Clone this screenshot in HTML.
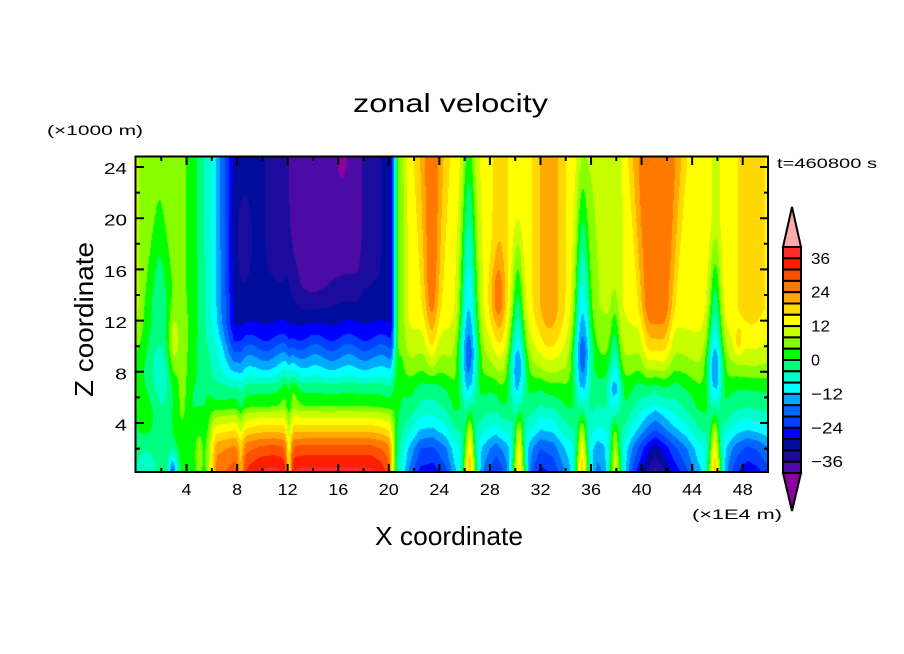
<!DOCTYPE html>
<html><head><meta charset="utf-8"><style>
html,body{margin:0;padding:0;background:#fff;}
#wrap{position:relative;width:904px;height:654px;overflow:hidden;background:#fff;}
canvas{position:absolute;left:136px;top:157px;}
svg{position:absolute;left:0;top:0;}
text{font-family:"Liberation Sans",Arial,sans-serif;fill:#000;}
</style></head><body><div id="wrap">
<canvas id="c" width="632" height="315"></canvas>
<svg id="s" width="904" height="654" xmlns="http://www.w3.org/2000/svg">
<text x="353" y="112" font-size="26" textLength="195" lengthAdjust="spacingAndGlyphs">zonal velocity</text>
<text x="47" y="135" font-size="14" textLength="96" lengthAdjust="spacingAndGlyphs">(×1000 m)</text>
<text x="777" y="168" font-size="14" textLength="100" lengthAdjust="spacingAndGlyphs">t=460800 s</text>
<text x="375" y="545" font-size="26" textLength="148" lengthAdjust="spacingAndGlyphs">X coordinate</text>
<text x="692" y="519" font-size="14" textLength="90" lengthAdjust="spacingAndGlyphs">(×1E4 m)</text>
<text transform="translate(93,397) rotate(-90)" x="0" y="0" font-size="26" textLength="155" lengthAdjust="spacingAndGlyphs">Z coordinate</text>
<g font-size="16" text-anchor="end">
<text x="127" y="174" textLength="23" lengthAdjust="spacingAndGlyphs">24</text>
<text x="127" y="225.5" textLength="23" lengthAdjust="spacingAndGlyphs">20</text>
<text x="127" y="277" textLength="23" lengthAdjust="spacingAndGlyphs">16</text>
<text x="127" y="328" textLength="23" lengthAdjust="spacingAndGlyphs">12</text>
<text x="127" y="379.5" textLength="12" lengthAdjust="spacingAndGlyphs">8</text>
<text x="127" y="430.5" textLength="12" lengthAdjust="spacingAndGlyphs">4</text>
</g>
<g id="xl" font-size="16" text-anchor="middle"></g>
<g font-size="16">
<text x="811" y="263.8" textLength="19" lengthAdjust="spacingAndGlyphs">36</text>
<text x="811" y="297.7" textLength="19" lengthAdjust="spacingAndGlyphs">24</text>
<text x="811" y="331.6" textLength="19" lengthAdjust="spacingAndGlyphs">12</text>
<text x="811" y="365.5" textLength="9" lengthAdjust="spacingAndGlyphs">0</text>
<text x="811" y="399.4" textLength="32" lengthAdjust="spacingAndGlyphs">−12</text>
<text x="811" y="433.3" textLength="32" lengthAdjust="spacingAndGlyphs">−24</text>
<text x="811" y="467.2" textLength="32" lengthAdjust="spacingAndGlyphs">−36</text>
</g>
<rect x="135.5" y="156.5" width="632.5" height="315.5" fill="none" stroke="#000" stroke-width="2"/>
<path id="ticks" d="" stroke="#000" stroke-width="2" fill="none"/>
<g id="cb"></g>
</svg>
</div>
<script>
(function(){
function pl(k,v){if(v<=k[0][0])return k[0][1];for(let i=1;i<k.length;i++){if(v<=k[i][0]){const a=k[i-1],b=k[i];return a[1]+(b[1]-a[1])*(v-a[0])/(b[0]-a[0]);}}return k[k.length-1][1];}
function cl(t){return t<0?0:t>1?1:t;}
function ss(a,b,v){let t=cl((v-a)/(b-a));return t*t*(3-2*t);}
function G(d,s){return Math.exp(-(d*d)/(s*s));}

const PK=[[0,38.5],[0.6,36],[1.5,32],[2.3,28],[2.8,24],[3.3,20],[3.85,16],[4.4,12],[4.9,8],[5.3,4],[6.3,0],[7.1,-4],[7.6,-8],[8.3,-12],[9.1,-16],[9.9,-20],[10.7,-24],[11.9,-28]];
const AK=[[6,-30],[9.8,-30.5],[10.5,-33],[12,-35],[12.5,-38.5],[17.5,-38.5],[18,-35],[19.2,-33.5],[19.7,-30],[20.5,-29]];
const OFK=[[5.8,-14],[6.5,-12],[7.5,-9],[8.8,-5],[9.8,-1],[11,0],[11.7,-2],[12.5,-1],[13.5,0],[18.5,0],[19.4,-3],[20,-8],[20.6,-14]];

function mid(x,z){
  let ze=z+0.3*Math.sin((x-7)*2.4)*Math.exp(-((z-10)/2.5)*((z-10)/2.5));
  let u;
  if(ze<=11.9)u=pl(PK,ze);
  else{let t=cl((ze-11.9)/7.4);let g=1-(1-t)*(1-t);u=-28+(pl(AK,x)+28)*g;}
  u+=pl(OFK,x)*Math.exp(-z/3.5);
  let dec=Math.exp(-z/4);
  u+=(-12*G(x-8.3,0.25)-22*G(x-12.1,0.22))*dec;
  u+=6*G(x-12.2,0.7)*G(z-7,2.2);
  u+=-4*G(x-8.6,0.6)*G(z-18,4);
  u+=-6*G(x-16.3,0.35)*G(z-25,1.6);
  u+=-2.5*G(x-14,1.5)*G(z-14.5,2.5)+2.5*G(x-12.3,0.6)*G(z-16,3);
  return u;
}
function left(x,z){
  let u=0+5*ss(5,12,z);
  u+=2.5*Math.sin(x*2.2)*G(z-5,3);
  u+=5*G(x+0.1,0.5)*ss(8,14,z);
  let sg=0.35+0.07*Math.max(0,21-z);
  let amp=Math.min(8,0.9*Math.max(0,22.5-z))*ss(4,9,z);
  u-=amp*G(x-1.85,sg);
  u+=8*G(x-2.95,0.45)*G(z-10,2.8);
  u+=-18*G(x-2.9,0.35)*G(z,1.6);
  u+=-8*G(x-0.8,0.9)*G(z,2.5);
  u+=4*G(x-3.7,0.4)*G(z-8,4);
  u+=6*G(x-5.0,0.6)*G(z-2,3.5);
  return u;
}
const LK=[[20.9,-6],[21.5,-16],[22.5,-26],[23.5,-27],[24.5,-22],[25.2,-14],[26.4,-10],[27,-14],[28.5,-25],[29.5,-18],[30.3,-10],[31,-18],[32,-26],[33,-24],[34,-16],[35.3,-10],[36.5,-18],[37.3,-16],[37.9,-10],[38.7,-14],[39.5,-24],[40.5,-34],[41.1,-38],[41.7,-34],[42.5,-28],[43.5,-22],[44.5,-14],[45.8,-10],[46.8,-18],[47.5,-24],[48.4,-28],[49.2,-26],[50,-22]];
const SK=[[0,0],[1.1,.09],[2,.15],[2.5,.215],[3.4,.34],[4,.40],[5.2,.52],[6.3,.585],[7.1,.65],[8.3,.77],[9.2,.83],[10.1,.89],[11.5,.95],[13,1]];
const TONG=[[26.3,28,10,33.4,0.75],[30.2,24,9,21.0,0.65],[35.3,26,10,26.3,0.7],[37.9,16,7,15.4,0.5],[45.8,22,9,20,0.65]];
const SPK=[[26.4,28],[30.3,26],[35.3,27],[37.9,20],[45.8,27]];
function upper(x,z){
  let f=Math.sqrt(cl((z-5)/7));
  let f1=Math.pow(cl((z-7)/8),0.6);
  let u=14;
  u+=-8*G(x-20.9,0.5);
  let s1=Math.max(0.45,0.55+0.04*(z-12));
  u+=13*f1*G(x-23.4,s1);
  u+=5*G(x-28.8,0.63)+8*G(x-28.6,0.6)*G(z-14,3);
  u+=9*f*G(x-32.7,1.1);
  let s4=2.03*(0.55+0.45*cl((z-11)/13));
  let d4=(x-41.2)/s4;u+=13*f*Math.exp(-d4*d4*d4*d4);
  u+=-5*G(x-37.3,1.3)-2*G(x-26.8,0.8)-4*G(x-35.8,1.0)-3*G(x-45.9,0.5);
  u+=4*G(x-48.7,1.3)+6*G(x-47.65,0.35)*G(z-10.2,1.2);
  return u;
}
function right(x,z){
  let L=pl(LK,x),U=upper(x,z),s=pl(SK,z);
  let u=L+(U-L)*s;
  for(let k=0;k<TONG.length;k++){
    const t=TONG[k];const xc=t[0],N=t[1],zm=t[2],zt=t[3],s0=t[4];
    let a;
    if(z>zm)a=cl((zt-z)/(zt-zm));else a=ss(2.5,zm,z);
    if(a<=0)continue;
    let sg=s0*(0.5+0.5*a);
    u-=N*a*G(x-xc,sg);
  }
  for(let k=0;k<SPK.length;k++){
    const p=SPK[k];
    let sg=Math.max(0.1,0.6*(1-z/8));
    u+=p[1]*G(x-p[0],sg)*G(z,3.8);
  }
  return u;
}
function field(x,z){
  let wz=ss(4.5,10,z),w,o;
  if(x<13){
    let t=cl((x-3.3)/4.5);let wu=Math.pow(t,1.8);let wl=ss(5.3,6.5,x);
    w=wl*(1-wz)+wu*wz;
    o=w<1?left(x,z):0;
  }else{
    let wu=1-ss(20.1,20.85,x),wl=1-ss(19.9,20.85,x);
    w=wl*(1-wz)+wu*wz;
    o=w<1?right(x,z):0;
  }
  let m=w>0?mid(x,z):0;
  return w*m+(1-w)*o;
}
const COL=['#4c0aa6','#1c0c9e','#000c9c','#0000ff','#0040ff','#0068ff','#00a8ff','#00ffff','#00ffc8','#00ff80','#00ff00','#88ff00','#c8ff00','#ffff00','#ffd800','#ffa800','#ff7800','#ff5000','#ff1e00','#ff2a2a'];
const UNDER='#8c00a0',OVER='#ffaaaa';
function hex(h){return [parseInt(h.substr(1,2),16),parseInt(h.substr(3,2),16),parseInt(h.substr(5,2),16)];}
const RGB=COL.map(hex),RU=hex(UNDER),RO=hex(OVER);

const cv=document.getElementById('c'),ctx=cv.getContext('2d');
const W=632,H=315,img=ctx.createImageData(W,H),d=img.data;
for(let j=0;j<H;j++){const z=24.78-(j+0.5)/12.8;
  for(let i=0;i<W;i++){const x=(i+0.5)/12.64;
    const u=field(x,z);let c;
    if(!(u>=-40))c=RU;else if(u>=40)c=RO;else c=RGB[Math.min(19,Math.floor((u+40)/4))];
    const p=(j*W+i)*4;d[p]=c[0];d[p+1]=c[1];d[p+2]=c[2];d[p+3]=255;}}
ctx.putImageData(img,0,0);

const NS='http://www.w3.org/2000/svg';
let p='';
for(let v=2;v<=48;v+=2){const X=(136+12.64*v).toFixed(2),L=(v%4==0)?8:4;p+='M'+X+' 472v-'+L+'M'+X+' 157v'+L;}
for(let z=2;z<=24;z+=2){const Y=(474.2-12.8*z).toFixed(2),L=(z%4==0)?8:4;p+='M136 '+Y+'h'+L+'M768 '+Y+'h-'+L;}
document.getElementById('ticks').setAttribute('d',p);

const xl=document.getElementById('xl');
for(let v=4;v<=48;v+=4){const t=document.createElementNS(NS,'text');
  t.setAttribute('x',(136+12.64*v).toFixed(2));t.setAttribute('y','495');
  t.setAttribute('textLength',v<10?'10':'20');t.setAttribute('lengthAdjust','spacingAndGlyphs');
  t.textContent=String(v);xl.appendChild(t);}

const cb=document.getElementById('cb');
function el(n,a){const e=document.createElementNS(NS,n);for(const k in a)e.setAttribute(k,a[k]);cb.appendChild(e);return e;}
el('polygon',{points:'783,247 801,247 792,207',fill:OVER,stroke:'#000','stroke-width':'2'});
el('polygon',{points:'783,473 801,473 792,511',fill:UNDER,stroke:'#000','stroke-width':'2'});
for(let i=0;i<20;i++){el('rect',{x:'783',y:(247+i*11.3).toFixed(2),width:'18',height:'11.3',fill:COL[19-i],stroke:'#000','stroke-width':'2'});}
})();
</script>
</body></html>
